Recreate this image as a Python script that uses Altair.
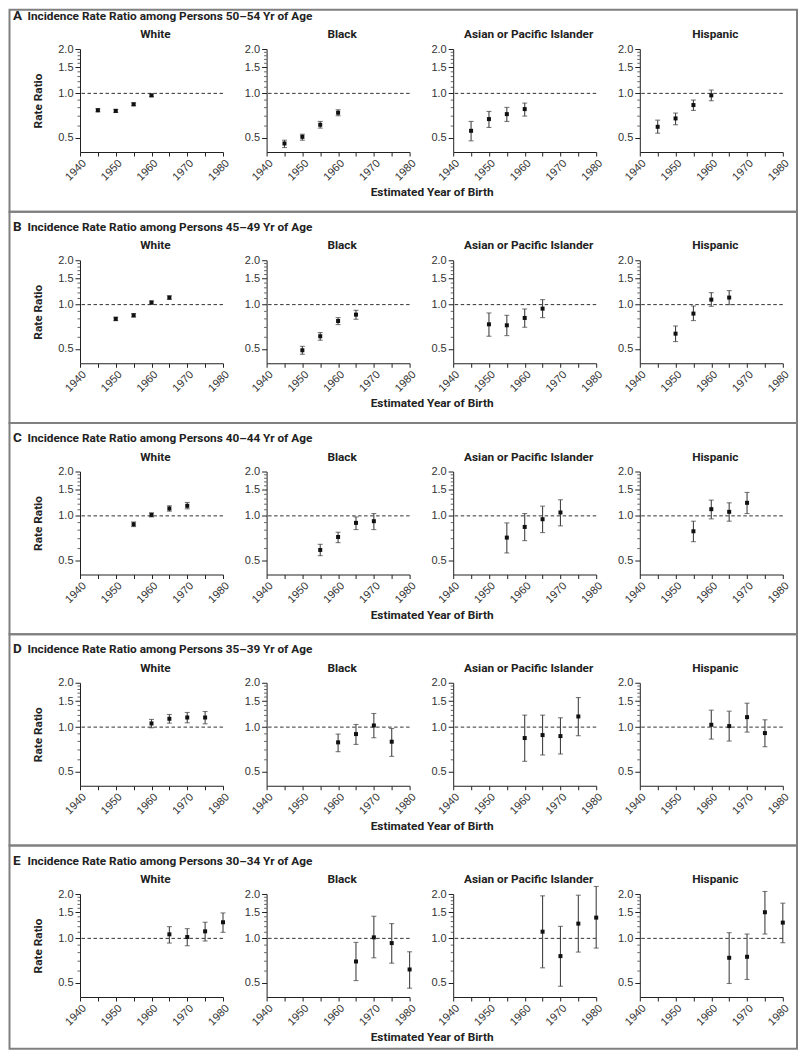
import altair as alt
import pandas as pd

RACES = ["White", "Black", "Asian or Pacific Islander", "Hispanic"]
ROW_LETTERS = ["A", "B", "C", "D", "E"]
ROW_TITLES = [
    "Incidence Rate Ratio among Persons 50\u201354 Yr of Age",
    "Incidence Rate Ratio among Persons 45\u201349 Yr of Age",
    "Incidence Rate Ratio among Persons 40\u201344 Yr of Age",
    "Incidence Rate Ratio among Persons 35\u201339 Yr of Age",
    "Incidence Rate Ratio among Persons 30\u201334 Yr of Age",
]
X_TICKS = [1940, 1945, 1950, 1955, 1960, 1965, 1970, 1975, 1980]
Y_MAJOR = [0.5, 1.0, 1.5, 2.0]
Y_MINOR = [0.6, 0.7, 0.8, 0.9, 1.1, 1.2, 1.3, 1.4, 1.6, 1.7, 1.8, 1.9]
REF_VALUE = [1.0]
X_TITLE = "Estimated Year of Birth"
Y_TITLE = "Rate Ratio"

# (estimated year of birth, rate ratio, lower 95% CI, upper 95% CI)
A_WHITE = [(1945, 0.768, 0.750, 0.787), (1950, 0.760, 0.742, 0.779), (1955, 0.843, 0.825, 0.862), (1960, 0.969, 0.950, 0.990)]
A_BLACK = [(1945, 0.457, 0.429, 0.481), (1950, 0.507, 0.481, 0.528), (1955, 0.612, 0.581, 0.645), (1960, 0.739, 0.705, 0.774)]
A_ASIAN = [(1945, 0.557, 0.476, 0.645), (1950, 0.669, 0.587, 0.754), (1955, 0.723, 0.645, 0.803), (1960, 0.782, 0.701, 0.859)]
A_HISP = [(1945, 0.593, 0.537, 0.658), (1950, 0.676, 0.612, 0.735), (1955, 0.833, 0.766, 0.901), (1960, 0.969, 0.891, 1.054)]

B_WHITE = [(1950, 0.800, 0.778, 0.822), (1955, 0.846, 0.823, 0.870), (1960, 1.032, 1.005, 1.060), (1965, 1.116, 1.085, 1.148)]
B_BLACK = [(1950, 0.490, 0.460, 0.521), (1955, 0.610, 0.573, 0.646), (1960, 0.774, 0.732, 0.816), (1965, 0.855, 0.795, 0.915)]
B_ASIAN = [(1950, 0.735, 0.610, 0.878), (1955, 0.724, 0.616, 0.846), (1960, 0.812, 0.702, 0.934), (1965, 0.939, 0.816, 1.081)]
B_HISP = [(1950, 0.635, 0.561, 0.716), (1955, 0.869, 0.779, 0.979), (1960, 1.081, 0.974, 1.206), (1965, 1.116, 1.000, 1.245)]

C_WHITE = [(1955, 0.877, 0.846, 0.910), (1960, 1.016, 0.984, 1.048), (1965, 1.122, 1.076, 1.170), (1970, 1.170, 1.116, 1.233)]
C_BLACK = [(1955, 0.587, 0.537, 0.641), (1960, 0.719, 0.658, 0.774), (1965, 0.896, 0.807, 0.984), (1970, 0.920, 0.807, 1.037)]
C_ASIAN = [(1955, 0.712, 0.560, 0.896), (1960, 0.841, 0.679, 1.037), (1965, 0.949, 0.770, 1.164), (1970, 1.054, 0.855, 1.286)]
C_HISP = [(1955, 0.786, 0.668, 0.920), (1960, 1.110, 0.954, 1.279), (1965, 1.065, 0.920, 1.226), (1970, 1.226, 1.037, 1.442)]

D_WHITE = [(1960, 1.059, 0.990, 1.127), (1965, 1.139, 1.064, 1.218), (1970, 1.162, 1.070, 1.257), (1975, 1.162, 1.053, 1.276)]
D_BLACK = [(1960, 0.788, 0.681, 0.897), (1965, 0.897, 0.763, 1.042), (1970, 1.026, 0.847, 1.237), (1975, 0.796, 0.633, 0.979)]
D_ASIAN = [(1960, 0.843, 0.586, 1.206), (1965, 0.883, 0.647, 1.206), (1970, 0.869, 0.657, 1.157), (1975, 1.181, 0.874, 1.587)]
D_HISP = [(1960, 1.037, 0.829, 1.303), (1965, 1.016, 0.804, 1.283), (1970, 1.169, 0.925, 1.453), (1975, 0.911, 0.736, 1.121)]

E_WHITE = [(1965, 1.065, 0.929, 1.201), (1970, 1.021, 0.891, 1.164), (1975, 1.116, 0.959, 1.286), (1980, 1.286, 1.099, 1.488)]
E_BLACK = [(1965, 0.697, 0.517, 0.939), (1970, 1.016, 0.738, 1.412), (1975, 0.929, 0.679, 1.259), (1980, 0.615, 0.459, 0.811)]
E_ASIAN = [(1965, 1.110, 0.631, 1.943), (1970, 0.758, 0.473, 1.207), (1975, 1.259, 0.807, 1.963), (1980, 1.383, 0.859, 2.249)]
E_HISP = [(1965, 0.738, 0.494, 1.093), (1970, 0.750, 0.526, 1.070), (1975, 1.504, 1.070, 2.080), (1980, 1.279, 0.934, 1.733)]

GRID = [
    [A_WHITE, A_BLACK, A_ASIAN, A_HISP],
    [B_WHITE, B_BLACK, B_ASIAN, B_HISP],
    [C_WHITE, C_BLACK, C_ASIAN, C_HISP],
    [D_WHITE, D_BLACK, D_ASIAN, D_HISP],
    [E_WHITE, E_BLACK, E_ASIAN, E_HISP],
]

# ---- layout / style ----
W, H = 143, 103
COL_GAP = 43.6
ROW_GAP = 108.25
TITLE_FONT = "Liberation Sans Narrow, Roboto, sans-serif"
LABEL_FONT = "Liberation Sans, Arial, sans-serif"
BOX_LEFT, BOX_RIGHT = -70.5, 717.0
BOX_TOP = [-39.3, -48.5, -48.5, -48.5, -48.5]
BOX_BOTTOM = [162.75, 162.75, 162.75, 162.75, 154.7]

xscale = alt.Scale(domain=[1940, 1980], nice=False, zero=False)
yscale = alt.Scale(type="log", domain=[0.4, 2.0], nice=False)

minor_df = pd.DataFrame({"rr": Y_MINOR})
ref_df = pd.DataFrame({"rr": REF_VALUE})


def make_panel(rows, r, c):
    df = pd.DataFrame(rows, columns=["year", "rr", "lo", "hi"])
    lab_df = pd.DataFrame({"label": [RACES[c]]})
    xaxis_kw = dict(
        values=X_TICKS, format="d",
        labelExpr="datum.value % 10 == 0 ? datum.label : ''",
        labelAngle=-45, labelAlign="right", labelBaseline="top",
        labelOverlap=False, labelFlush=False, labelPadding=1,
        labelFont=LABEL_FONT, labelFontSize=11, labelColor="#333",
        tickSize=4, tickColor="#222", domainColor="#222", grid=False,
    )
    if c == 1:
        xaxis = alt.Axis(title=X_TITLE, titleX=165, titleY=43.7, titleAlign="center",
                         titleBaseline="alphabetic", titleFont=TITLE_FONT,
                         titleFontSize=11.8, titleFontWeight="bold", titleColor="#222",
                         **xaxis_kw)
    else:
        xaxis = alt.Axis(title=None, **xaxis_kw)
    yaxis_kw = dict(
        values=Y_MAJOR, format=".1f",
        labelOverlap=False, labelFlush=False, labelPadding=2,
        labelFont=LABEL_FONT, labelFontSize=11, labelColor="#333",
        tickSize=5, tickColor="#222", domainColor="#222", grid=False,
    )
    if c == 0:
        yaxis = alt.Axis(title=Y_TITLE, titleX=-43, titleY=H / 2, titleAngle=270,
                         titleAlign="center", titleBaseline="middle",
                         titleFont=TITLE_FONT, titleFontSize=11.8,
                         titleFontWeight="bold", titleColor="#222", **yaxis_kw)
    else:
        yaxis = alt.Axis(title=None, **yaxis_kw)

    X = alt.X("year:Q", scale=xscale, axis=xaxis)

    def Y(field):
        return alt.Y(field, type="quantitative", scale=yscale, axis=yaxis)

    base = alt.Chart(df)
    pts = base.mark_square(size=16, color="#111", opacity=1).encode(x=X, y=Y("rr"))
    ref = alt.Chart(ref_df).mark_rule(color="#333", strokeWidth=1, strokeDash=[3.5, 2.5]).encode(
        y=Y("rr"))
    minor = alt.Chart(minor_df).mark_tick(orient="horizontal", size=2.5, thickness=1, color="#222").encode(
        x=alt.value(-1.25), y=Y("rr"))
    bars = base.mark_rule(color="#444", strokeWidth=1.1).encode(x=X, y=Y("lo"), y2="hi:Q")
    cap_lo = base.mark_tick(orient="horizontal", size=5, thickness=1.1, color="#444").encode(
        x=X, y=Y("lo"))
    cap_hi = base.mark_tick(orient="horizontal", size=5, thickness=1.1, color="#444").encode(
        x=X, y=Y("hi"))
    race = alt.Chart(lab_df).mark_text(
        font=TITLE_FONT, fontSize=11.8, fontWeight="bold",
        align="center", baseline="alphabetic", color="#222").encode(
        text="label:N", x=alt.value(W / 2 + 4), y=alt.value(-11))

    layers = [ref, minor, bars, cap_lo, cap_hi, pts, race]
    if c == 0:
        deco = pd.DataFrame({"letter": [ROW_LETTERS[r]], "title": [ROW_TITLES[r]]})
        box = alt.Chart(deco).mark_rect(fillOpacity=0, stroke="#808080", strokeWidth=2).encode(
            x=alt.value(BOX_LEFT), x2=alt.value(BOX_RIGHT),
            y=alt.value(BOX_TOP[r]), y2=alt.value(BOX_BOTTOM[r]))
        letter = alt.Chart(deco).mark_text(
            font=TITLE_FONT, fontSize=13.5, fontWeight="bold",
            align="left", baseline="alphabetic", color="#222").encode(
            text="letter:N", x=alt.value(-67), y=alt.value(-29.5))
        rtitle = alt.Chart(deco).mark_text(
            font=TITLE_FONT, fontSize=11.8, fontWeight="bold",
            align="left", baseline="alphabetic", color="#222").encode(
            text="title:N", x=alt.value(-52.5), y=alt.value(-29.5))
        layers += [box, letter, rtitle]
    return alt.layer(*layers).properties(width=W, height=H)


panels = [make_panel(GRID[r][c], r, c) for r in range(5) for c in range(4)]

chart = alt.concat(
    *panels, columns=4,
    spacing={"row": ROW_GAP, "column": COL_GAP},
    bounds="flush",
).properties(padding=0, background="white").configure_view(strokeWidth=0)

chart.save("out.html", embed_options={"renderer": "svg", "actions": False})
